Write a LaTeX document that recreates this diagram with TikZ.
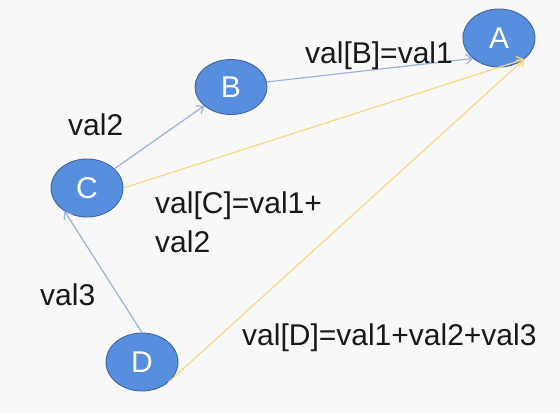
\documentclass[tikz,border=0pt]{standalone}
\usepackage{fontspec}
\setmainfont{Liberation Sans}
\usetikzlibrary{arrows.meta,shapes.geometric}
\definecolor{nodefill}{RGB}{88,142,222}
\definecolor{nodeline}{RGB}{62,100,160}
\definecolor{blueline}{RGB}{150,180,215}
\definecolor{yellowline}{RGB}{248,215,130}
\definecolor{bgc}{RGB}{248,248,248}
\tikzset{
  vnode/.style={ellipse, draw=nodeline, line width=0.9pt, fill=nodefill, text=white,
    minimum width=72pt, minimum height=58pt, inner sep=0pt,
    font=\fontsize{30}{30}\selectfont},
  lbl/.style={anchor=base west, inner sep=0pt, text=black!90,
    font=\fontsize{30}{39}\selectfont, align=left},
  bluearr/.style={draw=blueline, line width=1.2pt, -{Straight Barb[length=6pt,width=10pt]}},
  yelarr/.style={draw=yellowline, line width=1.2pt, -{Straight Barb[length=6pt,width=10pt]}}
}
\begin{document}
\begin{tikzpicture}[x=1pt,y=-1pt]
\fill[bgc] (0,0) rectangle (560,413);
\useasboundingbox (0,0) rectangle (560,413);
\node[vnode] (A) at (499,38) {A};
\node[vnode, minimum height=55pt] (B) at (231,87) {B};
\node[vnode] (C) at (87,188) {C};
\node[vnode] (D) at (142,362) {D};
\draw[bluearr] (B.8) -- (A.218);
\draw[bluearr] (C) -- (B);
\draw[bluearr] (D.north) -- (C.226);
\draw[yelarr] (C.east) -- (A.320);
\draw[yelarr] (D.322) -- (A.320);
\node[lbl] (lb) at (305,63) {val[B]=val1};
\node[lbl] (l2) at (68,135) {val2};
\node[lbl] (lc) at (155,252) {val[C]=val1+\\val2};
\node[lbl] (l3) at (40,305) {val3};
\node[lbl] (ld) at (242,345) {val[D]=val1+val2+val3};
\end{tikzpicture}
\end{document}
